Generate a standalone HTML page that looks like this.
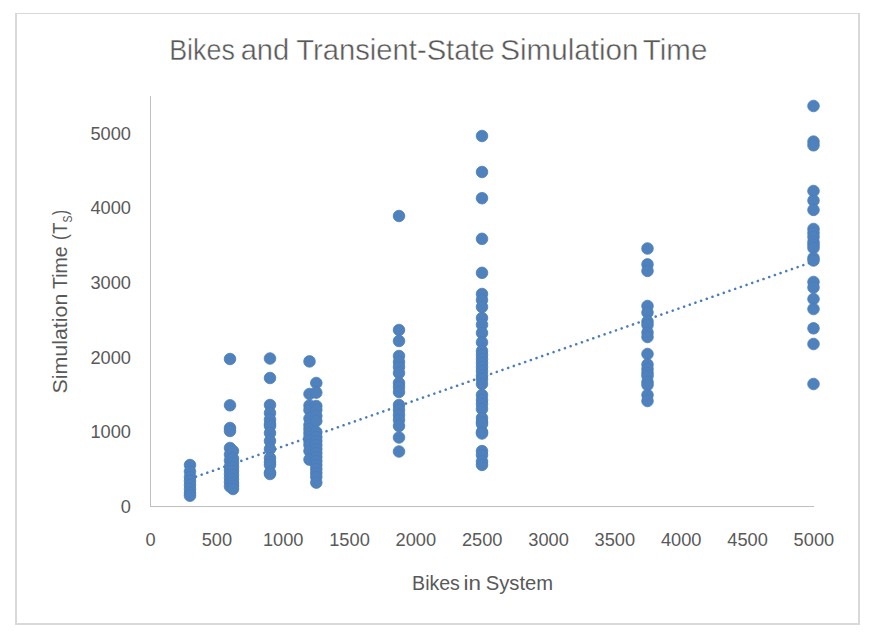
<!DOCTYPE html>
<html><head><meta charset="utf-8"><style>
html,body{margin:0;padding:0;background:#fff;}
body{width:871px;height:635px;overflow:hidden;position:relative;}
svg{position:absolute;left:0;top:0;}
text{font-family:"Liberation Sans", sans-serif;fill:#595959;}
</style></head><body>
<svg width="871" height="635" viewBox="0 0 871 635">
<rect x="0" y="0" width="871" height="635" fill="#fff"/>
<!-- chart border -->
<rect x="15" y="13" width="845" height="1" fill="#d9d9d9"/>
<rect x="15" y="13" width="2" height="612" fill="#d9d9d9"/>
<rect x="858" y="13" width="2" height="612" fill="#d9d9d9"/>
<rect x="15" y="623" width="845" height="2" fill="#d9d9d9"/>
<!-- title -->
<g font-size="29" stroke="#fff" stroke-width="0.4">
<text x="169.2" y="60" textLength="65.67" lengthAdjust="spacingAndGlyphs">Bikes</text>
<text x="240.66" y="60" textLength="48.62" lengthAdjust="spacingAndGlyphs">and</text>
<text x="296.35" y="60" textLength="198.44" lengthAdjust="spacingAndGlyphs">Transient-State</text>
<text x="500.15" y="60" textLength="138.37" lengthAdjust="spacingAndGlyphs">Simulation</text>
<text x="642.85" y="60" textLength="64.44" lengthAdjust="spacingAndGlyphs">Time</text>
</g>
<!-- axes -->
<rect x="150" y="96" width="1" height="411" fill="#bfbfbf"/>
<rect x="150" y="506" width="664" height="1" fill="#bfbfbf"/>
<g font-size="18.7">
<text x="131" y="512.95" text-anchor="end" textLength="10.14" lengthAdjust="spacingAndGlyphs">0</text>
<text x="131" y="438.33" text-anchor="end" textLength="40.56" lengthAdjust="spacingAndGlyphs">1000</text>
<text x="131" y="363.71" text-anchor="end" textLength="40.56" lengthAdjust="spacingAndGlyphs">2000</text>
<text x="131" y="289.09" text-anchor="end" textLength="40.56" lengthAdjust="spacingAndGlyphs">3000</text>
<text x="131" y="214.47" text-anchor="end" textLength="40.56" lengthAdjust="spacingAndGlyphs">4000</text>
<text x="131" y="139.85" text-anchor="end" textLength="40.56" lengthAdjust="spacingAndGlyphs">5000</text>
<text x="150.50" y="545.7" text-anchor="middle" textLength="10.14" lengthAdjust="spacingAndGlyphs">0</text>
<text x="216.84" y="545.7" text-anchor="middle" textLength="30.42" lengthAdjust="spacingAndGlyphs">500</text>
<text x="283.18" y="545.7" text-anchor="middle" textLength="40.56" lengthAdjust="spacingAndGlyphs">1000</text>
<text x="349.52" y="545.7" text-anchor="middle" textLength="40.56" lengthAdjust="spacingAndGlyphs">1500</text>
<text x="415.86" y="545.7" text-anchor="middle" textLength="40.56" lengthAdjust="spacingAndGlyphs">2000</text>
<text x="482.20" y="545.7" text-anchor="middle" textLength="40.56" lengthAdjust="spacingAndGlyphs">2500</text>
<text x="548.54" y="545.7" text-anchor="middle" textLength="40.56" lengthAdjust="spacingAndGlyphs">3000</text>
<text x="614.88" y="545.7" text-anchor="middle" textLength="40.56" lengthAdjust="spacingAndGlyphs">3500</text>
<text x="681.22" y="545.7" text-anchor="middle" textLength="40.56" lengthAdjust="spacingAndGlyphs">4000</text>
<text x="747.56" y="545.7" text-anchor="middle" textLength="40.56" lengthAdjust="spacingAndGlyphs">4500</text>
<text x="813.90" y="545.7" text-anchor="middle" textLength="40.56" lengthAdjust="spacingAndGlyphs">5000</text>
</g>
<!-- axis titles -->
<g font-size="20.5">
<text x="412.1" y="590" textLength="47.81" lengthAdjust="spacingAndGlyphs">Bikes</text>
<text x="463.6" y="590" textLength="17.46" lengthAdjust="spacingAndGlyphs">in</text>
<text x="485.78" y="590" textLength="67.45" lengthAdjust="spacingAndGlyphs">System</text>
</g>
<g transform="translate(67,0) rotate(-90)" font-size="20.5">
<text x="-393.47" y="0" textLength="99.76" lengthAdjust="spacingAndGlyphs">Simulation</text>
<text x="-288.93" y="0" textLength="42.58" lengthAdjust="spacingAndGlyphs">Time</text>
<text x="-240.16" y="0" textLength="17.58" lengthAdjust="spacingAndGlyphs">(T</text>
<text x="-222.47" y="4.9" font-size="13.5" textLength="6.95" lengthAdjust="spacingAndGlyphs">S</text>
<text x="-214.89" y="0" textLength="5.02" lengthAdjust="spacingAndGlyphs">)</text>
</g>
<!-- trend line -->
<line x1="190.3" y1="478.64" x2="813.5" y2="261.58" stroke="#4a7ebb" stroke-width="2.6" stroke-linecap="round" stroke-dasharray="0.01 6"/>
<!-- markers -->
<g fill="#4f81bd" stroke="#4a7ebb" stroke-width="0.8">
<circle cx="190.0" cy="465" r="5.8"/>
<circle cx="190.0" cy="471.5" r="5.8"/>
<circle cx="190.0" cy="477" r="5.8"/>
<circle cx="190.0" cy="481" r="5.8"/>
<circle cx="190.0" cy="485" r="5.8"/>
<circle cx="190.0" cy="489" r="5.8"/>
<circle cx="190.0" cy="493" r="5.8"/>
<circle cx="190.0" cy="495.7" r="5.8"/>
<circle cx="230.0" cy="359" r="5.8"/>
<circle cx="230.0" cy="405.3" r="5.8"/>
<circle cx="230.0" cy="428" r="5.8"/>
<circle cx="230.0" cy="431" r="5.8"/>
<circle cx="230.0" cy="448" r="5.8"/>
<circle cx="230.0" cy="454.5" r="5.8"/>
<circle cx="230.0" cy="460.5" r="5.8"/>
<circle cx="230.0" cy="466.5" r="5.8"/>
<circle cx="230.0" cy="470" r="5.8"/>
<circle cx="230.0" cy="474" r="5.8"/>
<circle cx="230.0" cy="478" r="5.8"/>
<circle cx="230.0" cy="482" r="5.8"/>
<circle cx="230.0" cy="486.5" r="5.8"/>
<circle cx="233.0" cy="451" r="5.8"/>
<circle cx="233.0" cy="458.5" r="5.8"/>
<circle cx="233.0" cy="463" r="5.8"/>
<circle cx="233.0" cy="467" r="5.8"/>
<circle cx="233.0" cy="471" r="5.8"/>
<circle cx="233.0" cy="475" r="5.8"/>
<circle cx="233.0" cy="479" r="5.8"/>
<circle cx="233.0" cy="483" r="5.8"/>
<circle cx="233.0" cy="486" r="5.8"/>
<circle cx="233.0" cy="489" r="5.8"/>
<circle cx="270.0" cy="358.5" r="5.8"/>
<circle cx="270.0" cy="378" r="5.8"/>
<circle cx="270.0" cy="405" r="5.8"/>
<circle cx="270.0" cy="413" r="5.8"/>
<circle cx="270.0" cy="419.5" r="5.8"/>
<circle cx="270.0" cy="424" r="5.8"/>
<circle cx="270.0" cy="426" r="5.8"/>
<circle cx="270.0" cy="433" r="5.8"/>
<circle cx="270.0" cy="441" r="5.8"/>
<circle cx="270.0" cy="449" r="5.8"/>
<circle cx="270.0" cy="458" r="5.8"/>
<circle cx="270.0" cy="462" r="5.8"/>
<circle cx="270.0" cy="465" r="5.8"/>
<circle cx="270.0" cy="472.5" r="5.8"/>
<circle cx="270.0" cy="474" r="5.8"/>
<circle cx="309.5" cy="361.4" r="5.8"/>
<circle cx="309.5" cy="394" r="5.8"/>
<circle cx="309.5" cy="405.5" r="5.8"/>
<circle cx="309.5" cy="410" r="5.8"/>
<circle cx="309.5" cy="418.6" r="5.8"/>
<circle cx="309.5" cy="425" r="5.8"/>
<circle cx="309.5" cy="429" r="5.8"/>
<circle cx="309.5" cy="433" r="5.8"/>
<circle cx="309.5" cy="437" r="5.8"/>
<circle cx="309.5" cy="441" r="5.8"/>
<circle cx="309.5" cy="445" r="5.8"/>
<circle cx="309.5" cy="451" r="5.8"/>
<circle cx="309.5" cy="459.6" r="5.8"/>
<circle cx="316.3" cy="383" r="5.8"/>
<circle cx="316.3" cy="392.6" r="5.8"/>
<circle cx="316.3" cy="406" r="5.8"/>
<circle cx="316.3" cy="410" r="5.8"/>
<circle cx="316.3" cy="416" r="5.8"/>
<circle cx="316.3" cy="421" r="5.8"/>
<circle cx="316.3" cy="432" r="5.8"/>
<circle cx="316.3" cy="437" r="5.8"/>
<circle cx="316.3" cy="441" r="5.8"/>
<circle cx="316.3" cy="445" r="5.8"/>
<circle cx="316.3" cy="449" r="5.8"/>
<circle cx="316.3" cy="453" r="5.8"/>
<circle cx="316.3" cy="457" r="5.8"/>
<circle cx="316.3" cy="461" r="5.8"/>
<circle cx="316.3" cy="465" r="5.8"/>
<circle cx="316.3" cy="469" r="5.8"/>
<circle cx="316.3" cy="473" r="5.8"/>
<circle cx="316.3" cy="477" r="5.8"/>
<circle cx="316.3" cy="482.6" r="5.8"/>
<circle cx="399.0" cy="216" r="5.8"/>
<circle cx="399.0" cy="330" r="5.8"/>
<circle cx="399.0" cy="341" r="5.8"/>
<circle cx="399.0" cy="356" r="5.8"/>
<circle cx="399.0" cy="362" r="5.8"/>
<circle cx="399.0" cy="367" r="5.8"/>
<circle cx="399.0" cy="373" r="5.8"/>
<circle cx="399.0" cy="383" r="5.8"/>
<circle cx="399.0" cy="387" r="5.8"/>
<circle cx="399.0" cy="392" r="5.8"/>
<circle cx="399.0" cy="405" r="5.8"/>
<circle cx="399.0" cy="410" r="5.8"/>
<circle cx="399.0" cy="415" r="5.8"/>
<circle cx="399.0" cy="420" r="5.8"/>
<circle cx="399.0" cy="426" r="5.8"/>
<circle cx="399.0" cy="437.5" r="5.8"/>
<circle cx="399.0" cy="451.5" r="5.8"/>
<circle cx="482.0" cy="136" r="5.8"/>
<circle cx="482.0" cy="172" r="5.8"/>
<circle cx="482.0" cy="198.2" r="5.8"/>
<circle cx="482.0" cy="238.8" r="5.8"/>
<circle cx="482.0" cy="272.8" r="5.8"/>
<circle cx="482.0" cy="294" r="5.8"/>
<circle cx="482.0" cy="300" r="5.8"/>
<circle cx="482.0" cy="307" r="5.8"/>
<circle cx="482.0" cy="318" r="5.8"/>
<circle cx="482.0" cy="324.7" r="5.8"/>
<circle cx="482.0" cy="333" r="5.8"/>
<circle cx="482.0" cy="342.4" r="5.8"/>
<circle cx="482.0" cy="351" r="5.8"/>
<circle cx="482.0" cy="355" r="5.8"/>
<circle cx="482.0" cy="359" r="5.8"/>
<circle cx="482.0" cy="363" r="5.8"/>
<circle cx="482.0" cy="367" r="5.8"/>
<circle cx="482.0" cy="371" r="5.8"/>
<circle cx="482.0" cy="375.5" r="5.8"/>
<circle cx="482.0" cy="379" r="5.8"/>
<circle cx="482.0" cy="384" r="5.8"/>
<circle cx="482.0" cy="395" r="5.8"/>
<circle cx="482.0" cy="400" r="5.8"/>
<circle cx="482.0" cy="404" r="5.8"/>
<circle cx="482.0" cy="409" r="5.8"/>
<circle cx="482.0" cy="418" r="5.8"/>
<circle cx="482.0" cy="422" r="5.8"/>
<circle cx="482.0" cy="424" r="5.8"/>
<circle cx="482.0" cy="432" r="5.8"/>
<circle cx="482.0" cy="433.5" r="5.8"/>
<circle cx="482.0" cy="451.1" r="5.8"/>
<circle cx="482.0" cy="455" r="5.8"/>
<circle cx="482.0" cy="461.5" r="5.8"/>
<circle cx="482.0" cy="464.9" r="5.8"/>
<circle cx="647.5" cy="248.5" r="5.8"/>
<circle cx="647.5" cy="264.4" r="5.8"/>
<circle cx="647.5" cy="270.9" r="5.8"/>
<circle cx="647.5" cy="306" r="5.8"/>
<circle cx="647.5" cy="312.5" r="5.8"/>
<circle cx="647.5" cy="321.5" r="5.8"/>
<circle cx="647.5" cy="325" r="5.8"/>
<circle cx="647.5" cy="332.5" r="5.8"/>
<circle cx="647.5" cy="337" r="5.8"/>
<circle cx="647.5" cy="354" r="5.8"/>
<circle cx="647.5" cy="364.5" r="5.8"/>
<circle cx="647.5" cy="369" r="5.8"/>
<circle cx="647.5" cy="373" r="5.8"/>
<circle cx="647.5" cy="376" r="5.8"/>
<circle cx="647.5" cy="382" r="5.8"/>
<circle cx="647.5" cy="385" r="5.8"/>
<circle cx="647.5" cy="395" r="5.8"/>
<circle cx="647.5" cy="401" r="5.8"/>
<circle cx="813.5" cy="106" r="5.8"/>
<circle cx="813.5" cy="141.6" r="5.8"/>
<circle cx="813.5" cy="145.3" r="5.8"/>
<circle cx="813.5" cy="191" r="5.8"/>
<circle cx="813.5" cy="200.5" r="5.8"/>
<circle cx="813.5" cy="209.9" r="5.8"/>
<circle cx="813.5" cy="229" r="5.8"/>
<circle cx="813.5" cy="233" r="5.8"/>
<circle cx="813.5" cy="237" r="5.8"/>
<circle cx="813.5" cy="242" r="5.8"/>
<circle cx="813.5" cy="245" r="5.8"/>
<circle cx="813.5" cy="248" r="5.8"/>
<circle cx="813.5" cy="258" r="5.8"/>
<circle cx="813.5" cy="260.5" r="5.8"/>
<circle cx="813.5" cy="282" r="5.8"/>
<circle cx="813.5" cy="287.5" r="5.8"/>
<circle cx="813.5" cy="299" r="5.8"/>
<circle cx="813.5" cy="309" r="5.8"/>
<circle cx="813.5" cy="328.3" r="5.8"/>
<circle cx="813.5" cy="344" r="5.8"/>
<circle cx="813.5" cy="384" r="5.8"/>
</g>
</svg>
</body></html>
